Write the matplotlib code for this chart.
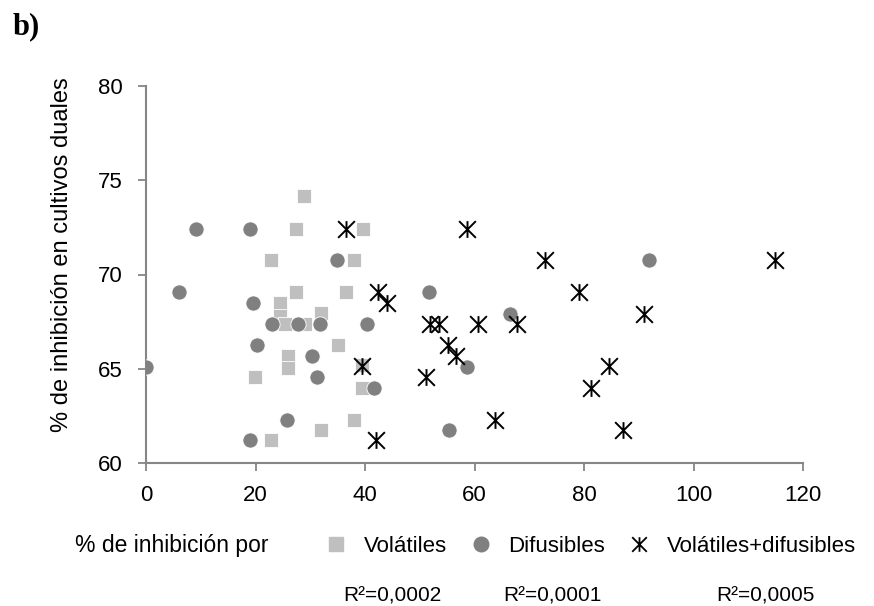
import matplotlib
matplotlib.use("Agg")
import matplotlib.pyplot as plt
from matplotlib.path import Path
from matplotlib.lines import Line2D
import numpy as np

plt.rcParams['font.family'] = ['Liberation Sans', 'DejaVu Sans']

# % inhibicion por volatiles vs % inhibicion en cultivos duales
vol_x = [28.9, 27.4, 39.6, 22.9, 38.0, 27.4, 36.5, 24.5, 32.0, 24.5, 25.4, 29.0,
         35.0, 25.9, 25.9, 19.9, 39.5, 39.5, 38.0, 32.0, 22.9]
vol_y = [74.15, 72.44, 72.44, 70.76, 70.76, 69.08, 69.08, 68.5, 67.97, 67.8, 67.4, 67.4,
         66.25, 65.7, 65.02, 64.57, 65.19, 64.0, 62.3, 61.75, 61.2]

# difusibles
dif_x = [9.1, 19.0, 34.8, 91.9, 6.0, 51.7, 19.5, 23.1, 27.7, 31.8, 40.3, 66.5,
         20.2, 30.4, 0.0, 58.7, 31.2, 41.7, 25.7, 55.3, 19.0]
dif_y = [72.44, 72.44, 70.76, 70.76, 69.08, 69.08, 68.5, 67.4, 67.4, 67.4, 67.4, 67.93,
         66.25, 65.7, 65.1, 65.1, 64.57, 64.0, 62.3, 61.75, 61.2]

# volatiles+difusibles
vd_x = [36.5, 58.6, 72.9, 114.9, 42.4, 44.0, 79.1, 91.0, 51.9, 53.6, 60.7, 67.7,
        55.2, 56.6, 39.5, 84.6, 51.1, 81.3, 63.7, 87.2, 42.0]
vd_y = [72.44, 72.44, 70.76, 70.76, 69.08, 68.5, 69.08, 67.93, 67.4, 67.4, 67.4, 67.4,
        66.25, 65.7, 65.15, 65.15, 64.57, 64.0, 62.3, 61.75, 61.2]

series_names = ['Volátiles', 'Difusibles', 'Volátiles+difusibles']
r2_labels = ['R²=0,0002', 'R²=0,0001', 'R²=0,0005']

# Excel-like star: X with vertical bar
star = Path([(-1, -1), (1, 1), (-1, 1), (1, -1), (0, -1), (0, 1)],
            [Path.MOVETO, Path.LINETO, Path.MOVETO, Path.LINETO, Path.MOVETO, Path.LINETO])

fig = plt.figure(figsize=(8.74, 6.06), dpi=100)
ax = fig.add_axes([146/874, 1-463/606, (803-146)/874, (463-86)/606])

ax.scatter(vol_x, vol_y, marker='s', s=100, color='#bfbfbf', edgecolors='white', linewidths=0.6, zorder=3)
ax.scatter(dif_x, dif_y, marker='o', s=120, color='#808080', edgecolors='white', linewidths=0.6, zorder=4)
ax.scatter(vd_x, vd_y, marker=star, s=145, color='black', linewidths=1.4, zorder=5)

ax.set_xlim(0, 120)
ax.set_ylim(60, 80)
ax.set_xticks(np.arange(0, 121, 20))
ax.set_yticks(np.arange(60, 81, 5))
for s in ['top', 'right']:
    ax.spines[s].set_visible(False)
for s in ['left', 'bottom']:
    ax.spines[s].set_color('#868686')
    ax.spines[s].set_linewidth(1.5)
ax.tick_params(axis='both', colors='#868686', length=6, width=1.3, labelsize=16, labelcolor='black')
ax.tick_params(axis='y', pad=11)
ax.tick_params(axis='x', pad=10)
ax.set_ylabel('% de inhibición en cultivos duales', fontsize=17)
ax.yaxis.set_label_coords(-0.111, 0.554)

fig.text(13/874, 1-27/606, 'b)', fontsize=22, fontweight='bold', family='Liberation Serif', va='center')
fig.text(75/874, 1-552/606, '% de inhibición por', fontsize=16.5, va='baseline')

handles = [
    Line2D([], [], ls='none', marker='s', ms=10, color='#bfbfbf'),
    Line2D([], [], ls='none', marker='o', ms=10.5, color='#808080'),
    Line2D([], [], ls='none', marker=star, ms=10.5, color='black', mew=1.3),
]
fig.legend(handles, series_names, ncol=3,
           loc='center left', bbox_to_anchor=(305/874, 1-546/606), frameon=False,
           fontsize=16, handletextpad=0.76, columnspacing=1.0, handlelength=1.0)

for xp, lab in zip([392, 552, 765], r2_labels):
    fig.text(xp/874, 1-601/606, lab, fontsize=15, ha='center', va='baseline')

fig.savefig('out.png', dpi=100)
